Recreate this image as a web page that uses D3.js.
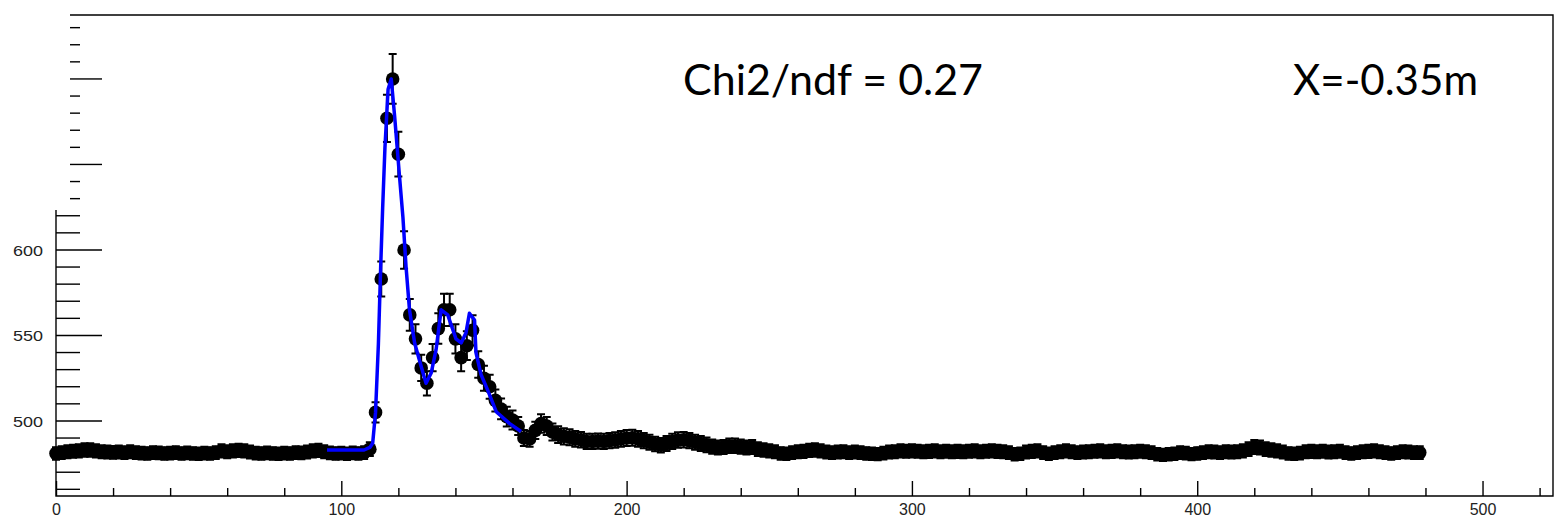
<!DOCTYPE html>
<html>
<head>
<meta charset="utf-8">
<script src="https://cdn.jsdelivr.net/npm/d3@7"></script>
<style>
    body { margin: 0; background: #fff; }
    svg { display: block; }
</style>
</head>
<body>
<div id="chart"></div>
<script>
// histogram contents, bins of width 2 starting at 0
const bin_start = 0;
const bin_width = 2;
const counts = [
    481.0, 481.5, 482.0, 482.3, 482.5, 483.0, 483.0, 482.5, 482.0, 481.8,
    481.6, 481.8, 481.5, 482.0, 481.5, 481.2, 481.0, 481.5, 481.3, 481.0,
    481.2, 481.5, 481.0, 481.3, 481.0, 480.8, 481.2, 481.0, 481.5, 482.5,
    482.0, 482.5, 482.8, 482.5, 481.8, 481.2, 481.0, 481.3, 481.0, 480.8,
    481.2, 481.0, 481.5, 481.3, 481.8, 482.5, 482.8, 482.0, 481.3, 481.0,
    481.2, 480.8, 481.3, 481.0, 481.5, 483.5, 505.0, 583.0, 677.0, 700.0,
    656.0, 600.0, 562.0, 548.0, 531.0, 522.0, 537.0, 554.0, 565.0, 565.0,
    548.0, 537.0, 544.0, 553.0, 533.0, 525.0, 520.0, 512.0, 507.0, 502.5,
    500.5, 497.0, 490.0, 489.5, 494.5, 498.5, 497.0, 493.5, 492.0, 491.0,
    490.5, 489.5, 489.0, 488.0, 488.0, 488.2, 488.0, 488.5, 488.8, 489.5,
    490.0, 490.2, 489.5, 488.5, 487.5, 486.5, 485.8, 486.8, 488.0, 488.8,
    489.0, 488.5, 487.5, 486.8, 486.0, 485.0, 484.5, 484.8, 485.5, 485.5,
    485.0, 484.5, 484.8, 483.5, 483.0, 482.5, 482.0, 481.0, 480.8, 481.5,
    482.0, 482.2, 482.8, 483.0, 482.5, 481.8, 481.5, 481.8, 482.0, 481.5,
    481.8, 481.5, 481.0, 480.8, 480.6, 481.2, 481.8, 482.0, 482.5, 482.3,
    482.5, 482.3, 482.0, 482.2, 482.5, 482.0, 482.3, 482.0, 482.2, 482.0,
    482.3, 482.5, 482.0, 482.3, 482.5, 482.2, 482.0, 481.5, 480.5, 480.8,
    481.8, 482.2, 482.5, 481.5, 480.8, 481.5, 482.0, 482.5, 482.0, 481.5,
    481.8, 482.0, 482.3, 482.5, 482.0, 482.2, 482.5, 482.0, 481.8, 482.0,
    482.3, 482.0, 481.5, 480.5, 480.2, 480.5, 480.8, 481.5, 481.2, 480.6,
    481.0, 481.5, 482.0, 481.8, 481.5, 482.0, 481.8, 482.0, 482.5, 483.5,
    484.8, 484.5, 483.5, 483.0, 482.5, 481.8, 481.0, 480.8, 481.2, 482.0,
    482.2, 482.0, 482.3, 481.8, 482.0, 482.3, 481.5, 481.0, 481.5, 482.0,
    482.2, 482.5, 482.0, 481.5, 481.0, 481.5, 482.0, 481.8, 481.5, 481.5
];

// fitted function, sampled along x
const fit_x = [95, 100, 105, 108, 110, 111, 112, 113, 113.8, 114.5, 115.3, 116.4, 117.5,
    118.7, 120.4, 121.6, 122.7, 123.9, 125.7, 128, 129.7, 131.5, 133.2, 135, 137.3,
    140.2, 142, 143.7, 144.9, 146.7, 147.2, 149, 151.3, 154.3, 158.9, 163];
const fit_y = [483, 483, 483, 483, 484.5, 487, 505, 545, 590, 625, 660, 694, 700,
    678, 643, 619, 590, 565, 545.6, 531.8, 522, 528, 541.5, 565, 562,
    548, 545.6, 551.5, 563, 559, 540, 527, 518, 505.4, 498.6, 493.8];

const y_labels = [500, 550, 600];
const x_labels = [0, 100, 200, 300, 400, 500];
const chi2_text = 'Chi2/ndf = 0.27';
const pos_text = 'X=-0.35m';

const width = 1556,
      height = 520;

const frame = { left: 56, right: 1553, top: 15, bottom: 496 };
const y_cut = 210; // axis line and labels stop here, upper ticks are shifted

let x_range = d3.scaleLinear()
    .domain([0, 524.7])
    .range([frame.left, frame.right]);

let y_range = d3.scaleLinear()
    .domain([456.1, 737.4])
    .range([frame.bottom, frame.top]);

let svg = d3.select('#chart')
    .append('svg')
    .attr('width', width)
    .attr('height', height)
    .attr('viewBox', `0 0 ${width} ${height}`);

svg.append('rect')
    .attr('width', width)
    .attr('height', height)
    .attr('fill', '#fff');

// frame: top and right lines, x axis line, y axis line (lower part only)
let g_frame = svg.append('g')
    .attr('stroke', '#000')
    .attr('stroke-width', 1.4)
    .attr('fill', 'none');

g_frame.append('path')
    .attr('d', `M70,${frame.top}H${frame.right}V${frame.bottom}H${frame.left}V${y_cut}`);

// x axis ticks
let g_xaxis = svg.append('g')
    .attr('transform', `translate(0,${frame.bottom})`)
    .call(d3.axisBottom(x_range)
        .tickValues(d3.range(0, 521, 20))
        .tickSize(0)
        .tickFormat(''));
g_xaxis.select('.domain').remove();

g_xaxis.selectAll('.tick line')
    .attr('y1', 0)
    .attr('y2', (d) => d % 100 === 0 ? -15 : -8)
    .attr('stroke', '#000')
    .attr('stroke-width', 1.4);

g_xaxis.selectAll('.tick').filter((d) => x_labels.includes(d))
    .append('text')
    .attr('y', 19)
    .attr('fill', '#222')
    .attr('text-anchor', 'middle')
    .style('font-family', 'Liberation Sans, Arial, sans-serif')
    .style('font-size', '16px')
    .text((d) => d);

// y axis ticks, every 10
let y_ticks = d3.range(460, 731, 10);
let g_yaxis = svg.append('g');

g_yaxis.selectAll('line')
    .data(y_ticks)
    .enter()
    .append('line')
    .attr('x1', (d) => y_range(d) < y_cut ? 70 : frame.left)
    .attr('x2', (d) => d % 50 === 0 ? frame.left + 46 : frame.left + 24)
    .attr('y1', (d) => y_range(d))
    .attr('y2', (d) => y_range(d))
    .attr('stroke', '#000')
    .attr('stroke-width', 1.4);

g_yaxis.selectAll('text')
    .data(y_labels)
    .enter()
    .append('text')
    .attr('x', 43)
    .attr('y', (d) => y_range(d) + 6)
    .attr('text-anchor', 'end')
    .attr('fill', '#222')
    .attr('textLength', 30)
    .attr('lengthAdjust', 'spacingAndGlyphs')
    .style('font-family', 'Liberation Sans, Arial, sans-serif')
    .style('font-size', '15px')
    .text((d) => d);

// data points with error bars
let points = counts.map((v, i) => ({
    x: bin_start + i * bin_width,
    y: v,
    err: Math.sqrt(v - 466) * 0.95
}));

let g_points = svg.append('g')
    .classed('points', true);

g_points.selectAll('.err')
    .data(points)
    .enter()
    .append('path')
    .attr('d', (d) => {
        const cx = x_range(d.x),
              y0 = y_range(d.y + d.err),
              y1 = y_range(d.y - d.err);
        return `M${cx},${y0}V${y1}M${cx - 4},${y0}H${cx + 4}M${cx - 4},${y1}H${cx + 4}`;
    })
    .attr('stroke', '#000')
    .attr('stroke-width', 2)
    .attr('fill', 'none');

g_points.selectAll('circle')
    .data(points)
    .enter()
    .append('circle')
    .attr('cx', (d) => x_range(d.x))
    .attr('cy', (d) => y_range(d.y))
    .attr('r', 6.8)
    .attr('fill', '#000');

// fit curve
let fit_line = d3.line()
    .x((d) => x_range(d[0]))
    .y((d) => y_range(d[1]));

svg.append('path')
    .datum(d3.zip(fit_x, fit_y))
    .attr('d', fit_line)
    .attr('fill', 'none')
    .attr('stroke', '#0000ff')
    .attr('stroke-width', 3.5)
    .attr('stroke-linejoin', 'round');

// annotations
svg.append('text')
    .attr('x', 683)
    .attr('y', 95)
    .attr('textLength', 300)
    .attr('lengthAdjust', 'spacingAndGlyphs')
    .style('font-family', 'Lato, Open Sans, sans-serif')
    .style('font-size', '42px')
    .text(chi2_text);

svg.append('text')
    .attr('x', 1293)
    .attr('y', 95)
    .attr('textLength', 185)
    .attr('lengthAdjust', 'spacingAndGlyphs')
    .style('font-family', 'Lato, Open Sans, sans-serif')
    .style('font-size', '42px')
    .text(pos_text);
</script>
</body>
</html>
